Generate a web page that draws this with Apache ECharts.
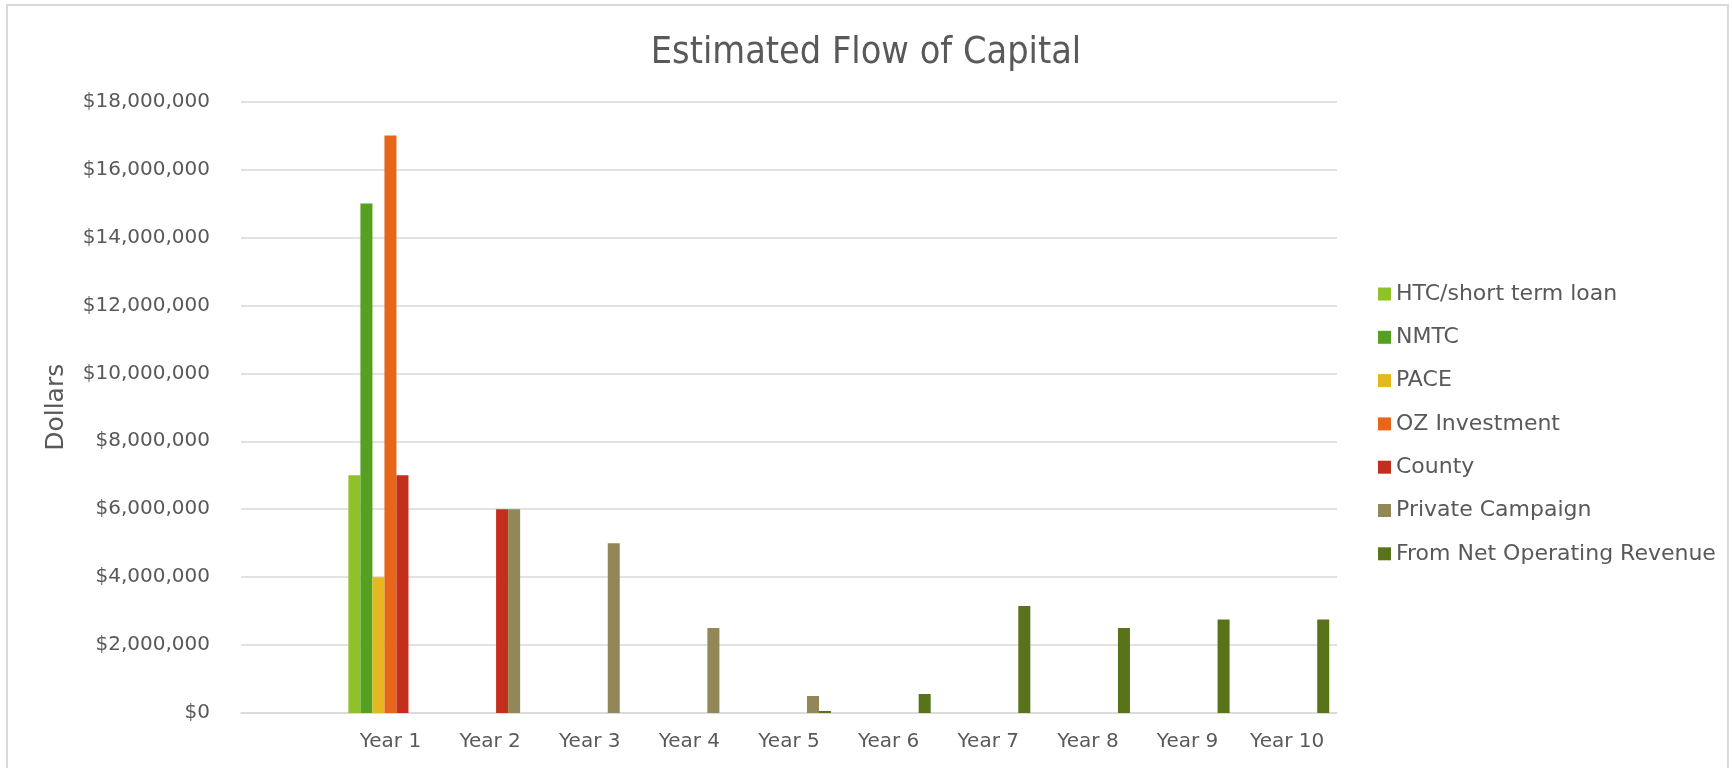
<!DOCTYPE html>
<html>
<head>
<meta charset="utf-8">
<script src="https://cdn.jsdelivr.net/npm/echarts@6/dist/echarts.min.js"></script>
<style>
html,body{margin:0;padding:0;background:#fff;}
#chart{width:1732px;height:768px;}
</style>
</head>
<body>
<div id="chart"></div>
<script>
const categories = ['', 'Year 1', 'Year 2', 'Year 3', 'Year 4', 'Year 5', 'Year 6', 'Year 7', 'Year 8', 'Year 9', 'Year 10'];
const seriesNames = ['HTC/short term loan', 'NMTC', 'PACE', 'OZ Investment', 'County', 'Private Campaign', 'From Net Operating Revenue'];
const htc      = [null, 7000000, null, null, null, null, null, null, null, null, null];
const nmtc     = [null, 15000000, null, null, null, null, null, null, null, null, null];
const pace     = [null, 4000000, null, null, null, null, null, null, null, null, null];
const oz       = [null, 17000000, null, null, null, null, null, null, null, null, null];
const county   = [null, 7000000, 6000000, null, null, null, null, null, null, null, null];
const privateCampaign = [null, null, 6000000, 5000000, 2500000, 500000, null, null, null, null, null];
const netOperating    = [null, null, null, null, null, 60000, 560000, 3150000, 2500000, 2750000, 2750000];
const yTicks = [0, 2000000, 4000000, 6000000, 8000000, 10000000, 12000000, 14000000, 16000000, 18000000];

const colors = ['#8FC226', '#56A021', '#E5B820', '#E8661A', '#C42E1C', '#928756', '#58731A'];
const allData = [htc, nmtc, pace, oz, county, privateCampaign, netOperating];

const chart = echarts.init(document.getElementById('chart'), null, {renderer: 'canvas'});
const fmt = v => '$' + v.toLocaleString('en-US');

chart.setOption({
  animation: false,
  color: colors,
  title: {
    text: 'Estimated Flow of Capital',
    left: 'center',
    top: 29,
    textStyle: {fontFamily: '"DejaVu Sans Condensed", "Noto Sans", sans-serif', fontWeight: 'normal', fontSize: 37.5, color: '#595959'}
  },
  graphic: [{
    type: 'rect', shape: {x: 7, y: 5, width: 1721, height: 770},
    style: {fill: 'none', stroke: '#d9d9d9', lineWidth: 2}, silent: true, z: -1
  }],
  legend: {
    orient: 'vertical',
    left: 1373,
    top: 278,
    itemWidth: 13,
    itemHeight: 13,
    itemGap: 21.3,
    icon: 'rect',
    textStyle: {fontFamily: 'DejaVu Sans', fontSize: 22, color: '#595959', lineHeight: 22},
    data: seriesNames
  },
  grid: {left: 241, right: 395, top: 101.6, bottom: 55, containLabel: false},
  xAxis: {
    type: 'category',
    data: categories,
    axisLine: {show: true, lineStyle: {color: '#d9d9d9', width: 1.5}},
    axisTick: {show: false},
    axisLabel: {fontFamily: 'DejaVu Sans', fontSize: 20, color: '#595959', margin: 19, interval: 0}
  },
  yAxis: {
    type: 'value',
    min: yTicks[0],
    max: yTicks[yTicks.length - 1],
    interval: yTicks[1] - yTicks[0],
    name: 'Dollars',
    nameLocation: 'middle',
    nameGap: 172,
    nameTextStyle: {fontFamily: 'DejaVu Sans', fontSize: 25, color: '#595959'},
    axisLine: {show: false},
    axisTick: {show: false},
    splitLine: {lineStyle: {color: '#d9d9d9', width: 1.5}},
    axisLabel: {fontFamily: 'DejaVu Sans', fontSize: 20, color: '#595959', margin: 31, formatter: fmt}
  },
  series: seriesNames.map((name, i) => ({
    name: name,
    type: 'bar',
    data: allData[i],
    barGap: '0%',
    barCategoryGap: '15.6%',
    itemStyle: {color: colors[i]}
  }))
});
</script>
</body>
</html>
